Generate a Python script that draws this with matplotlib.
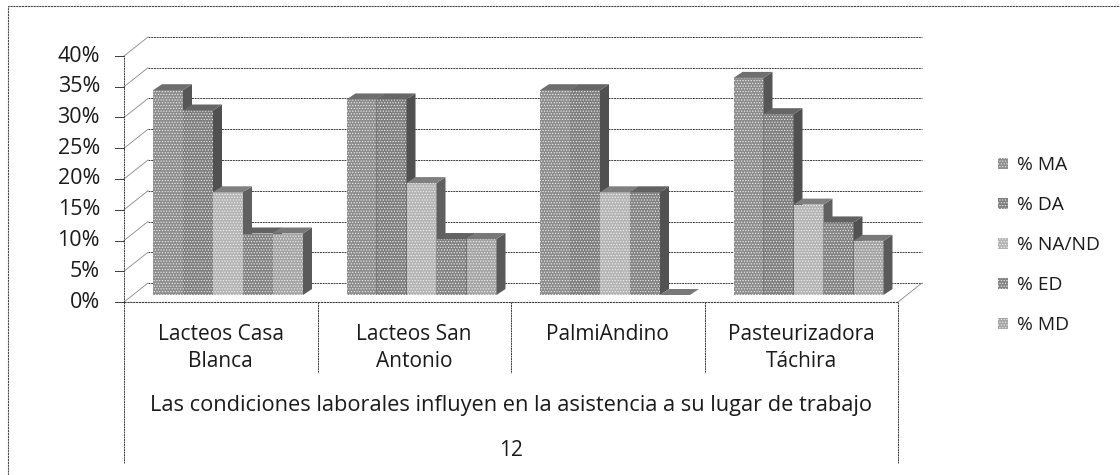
import matplotlib
matplotlib.use('Agg')
import matplotlib.pyplot as plt
from matplotlib.patches import Polygon

categories = ["Lacteos Casa\nBlanca", "Lacteos San\nAntonio", "PalmiAndino", "Pasteurizadora\nTáchira"]
series = ["% MA", "% DA", "% NA/ND", "% ED", "% MD"]

ma = [33.3, 31.8, 33.3, 35.3]
da = [30.0, 31.8, 33.3, 29.4]
na_nd = [16.7, 18.2, 16.7, 14.7]
ed = [10.0, 9.1, 16.7, 11.8]
md = [10.0, 9.1, 0.0, 8.8]
values = [ma, da, na_nd, ed, md]

y_ticks = [0, 5, 10, 15, 20, 25, 30, 35, 40]
question = "Las condiciones laborales influyen en la asistencia a su lugar de trabajo"
question_no = "12"

front_col = ['#8c8c8c', '#7e7e7e', '#b4b4b4', '#828282', '#a4a4a4']
side_col = ['#565656', '#505050', '#606060', '#525252', '#5a5a5a']
top_col = ['#6e6e6e', '#666666', '#808080', '#626262', '#787878']
line_col = '#3c3c3c'
text_col = '#1a1a1a'

W, H = 1120, 475
fig = plt.figure(figsize=(W / 100, H / 100), dpi=100, facecolor='white')
plt.rcParams['hatch.linewidth'] = 0.5
plt.rcParams['font.family'] = ['Open Sans', 'DejaVu Sans']

# plot box in pixels of the front plane
left, right, bottom, top = 124, 898, 302, 56
ax = fig.add_axes([left / W, 1 - bottom / H, (right - left) / W, (bottom - top) / H])
ax.set_xlim(0, 4)
ax.set_ylim(0, 40)
ax.axis('off')

# 3d offsets in data units
wall_dx, wall_dy = 24 / 193.5, 19 / 6.15
bar_dx, bar_dy = 9 / 193.5, 6 / 6.15
base = 7 / 6.15
bar_w = 30 / 193.5
start = 29 / 193.5

# back wall and left wall gridlines
for t in y_ticks:
    ax.plot([wall_dx, 4 + wall_dx], [t + wall_dy] * 2, color=line_col, lw=0.7,
            ls=(0, (2, 0.8)), clip_on=False, zorder=1)
    ax.plot([0, wall_dx], [t, t + wall_dy], color='#888888', lw=0.6, clip_on=False, zorder=1)
    ax.plot([-9 / 193.5, 0], [t, t], color=line_col, lw=0.7, clip_on=False, zorder=1)
    ax.text(-24 / 193.5, t, f"{t}%", ha='right', va='center', fontsize=15.5, color=text_col)

ax.plot([0, 4], [0, 0], color=line_col, lw=0.8, ls=(0, (2, 0.6)), clip_on=False, zorder=1)
ax.plot([4, 4 + wall_dx], [0, wall_dy], color='#888888', lw=0.6, clip_on=False, zorder=1)
ax.plot([0, 0], [0, 40], color=line_col, lw=0.7, ls=(0, (2, 0.6)), clip_on=False, zorder=1)

# bars, left to right so the next one covers the previous side
for g in range(len(categories)):
    for s, vals in enumerate(values):
        v = vals[g]
        x0 = g + start + s * bar_w
        x1 = x0 + bar_w
        y1 = base + v
        ax.bar(x0, v, width=bar_w, bottom=base, align='edge', color=front_col[s],
               edgecolor='#f4f4f4', hatch='......', lw=0, zorder=3)
        ax.add_patch(Polygon([(x1, base), (x1 + bar_dx, base + bar_dy), (x1 + bar_dx, y1 + bar_dy), (x1, y1)],
                             closed=True, fc=side_col[s], ec='none', zorder=3))
        ax.add_patch(Polygon([(x0, y1), (x0 + bar_dx, y1 + bar_dy), (x1 + bar_dx, y1 + bar_dy), (x1, y1)],
                             closed=True, fc=top_col[s], ec='none', zorder=3))

# category table below the axis
trans = ax.get_xaxis_transform()
px = lambda y: (bottom - y) / (bottom - top)
for g in range(5):
    end = 463 if g in (0, 4) else 373
    ax.plot([g, g], [0, px(end)], transform=trans, color=line_col, lw=0.7,
            ls=(0, (2, 0.6)), clip_on=False)
for g, c in enumerate(categories):
    ax.text(g + 0.5, px(324), c, transform=trans, ha='center', va='top', fontsize=15,
            linespacing=1.38, color=text_col)
ax.text(2, px(405), question, transform=trans, ha='center', va='center', fontsize=15.7, color=text_col)
ax.text(2, px(450), question_no, transform=trans, ha='center', va='center', fontsize=15, color=text_col)

# legend
handles = [Polygon([(0, 0)], closed=True, fc=front_col[i], ec='#f4f4f4', hatch='......', lw=0) for i in range(5)]
fig.legend(handles, series, loc='upper left', bbox_to_anchor=(981 / W, 1 - 139 / H), frameon=False,
           fontsize=13.8, labelspacing=1.15, handlelength=0.5, handleheight=0.5, handletextpad=0.5,
           labelcolor=text_col)

# outer frame, only left and top edges show in the scan
fig.add_artist(plt.Line2D([8 / W, 8 / W, 1], [0, 1 - 6 / H, 1 - 6 / H], transform=fig.transFigure,
                          color='#4a4a4a', lw=0.8, ls=(0, (2, 0.6))))

fig.savefig('out.png', dpi=100, facecolor='white')
